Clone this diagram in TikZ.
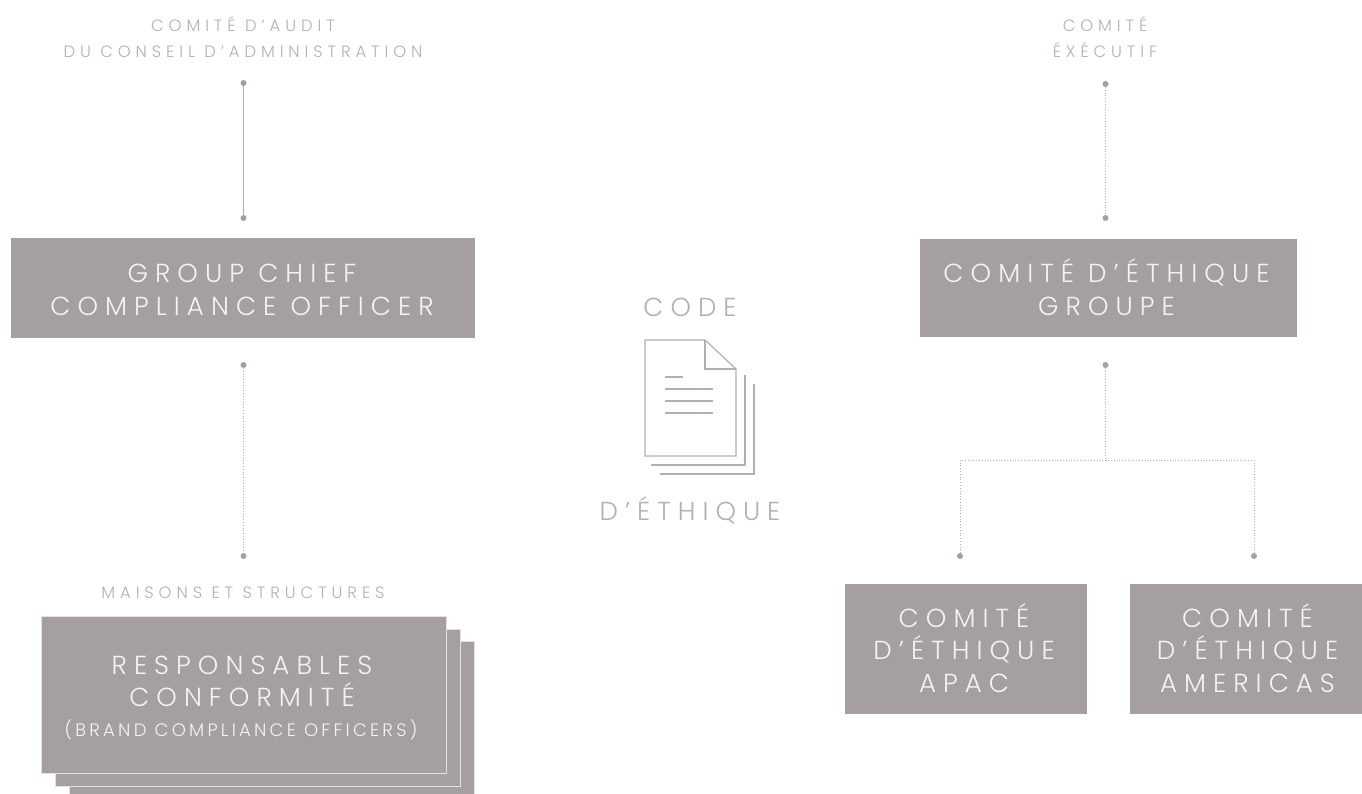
\documentclass[tikz,border=0pt]{standalone}
\usepackage{fontspec}
\setmainfont{Poppins}[UprightFont=* Light]
\newfontfamily\fsm{Poppins}[UprightFont=* Light,LetterSpace=30]
\newfontfamily\fbr{Poppins}[UprightFont=* Light,LetterSpace=18]
\newfontfamily\fbg{Poppins}[UprightFont=* Light,LetterSpace=27]
\definecolor{boxgrey}{HTML}{A69F9F}
\definecolor{labgrey}{HTML}{B4B0AF}
\definecolor{edgegrey}{HTML}{E4E2E1}
\definecolor{linegrey}{HTML}{B3AFAE}
\definecolor{boxtext}{HTML}{F4F3F2}
\tikzset{
  x=1pt,y=-1pt,
  panel/.style={fill=boxgrey,draw=none,inner sep=0pt,outer sep=0pt,minimum width=#1,anchor=north west},
  backpanel/.style={fill=boxgrey,draw=edgegrey,line width=1pt,inner sep=0pt,anchor=north west},
  boxlabel/.style={text=boxtext,align=center,inner sep=0pt,font=\fbg\fontsize{26.1}{32.5}\selectfont},
  smalllabel/.style={text=labgrey,align=center,inner sep=0pt,font=\fsm\fontsize{16.4}{26}\selectfont},
  midlabel/.style={text=labgrey,align=center,inner sep=0pt,font=\fbg\fontsize{26}{28}\selectfont},
  pin/.style={circle,fill=boxgrey,draw=none,minimum size=6pt,inner sep=0pt,outer sep=0pt},
  solidlink/.style={draw=linegrey,line width=1.4pt},
  dotlink/.style={draw=linegrey,line width=.8pt,dash pattern=on .9pt off 1.9pt},
  docline/.style={draw=linegrey,line width=1.2pt},
}
\begin{document}
\begin{tikzpicture}
\useasboundingbox (0,0) rectangle (1362,793);
% stacked panels
\node[backpanel,minimum width=405pt,minimum height=157pt] (st3) at (69,641) {};
\node[backpanel,minimum width=405pt,minimum height=157pt] (st2) at (55,629) {};
\node[backpanel,minimum width=405pt,minimum height=157pt] (st1) at (41,616) {};
% boxes
\node[panel=464pt,minimum height=100pt] (gcco) at (11,238) {};
\node[panel=377pt,minimum height=98pt] (ceg) at (920,239) {};
\node[panel=242pt,minimum height=130pt] (apac) at (845,584) {};
\node[panel=232pt,minimum height=130pt] (amer) at (1130,584) {};
\node[boxlabel] (tgcco) at (242,290) {GROUP CHIEF\\COMPLIANCE OFFICER};
\node[boxlabel] (tceg) at (1106.5,287) {COMITÉ D’ÉTHIQUE\\GROUPE};
\node[boxlabel] (tapac) at (964,648) {COMITÉ\\D’ÉTHIQUE\\APAC};
\node[boxlabel] (tamer) at (1247.5,648) {COMITÉ\\D’ÉTHIQUE\\AMERICAS};
\node[boxlabel] (tresp) at (242,681.5) {RESPONSABLES\\CONFORMITÉ};
\node[smalllabel,text=boxtext,font=\fbr\fontsize{18}{20}\selectfont] (tbrand) at (241,730) {(BRAND COMPLIANCE OFFICERS)};
% small labels
\node[smalllabel] (audit) at (243,37) {COMITÉ D’AUDIT\\DU CONSEIL D’ADMINISTRATION};
\node[smalllabel] (exec) at (1105,37) {COMITÉ\\ÉXÉCUTIF};
\node[smalllabel] (maisons) at (243,593) {MAISONS ET STRUCTURES};
\node[midlabel] (code) at (690,307) {CODE};
\node[midlabel] (ethique) at (690,510) {D’ÉTHIQUE};
% pins
\node[pin] (a1) at (243.5,83) {};
\node[pin] (a2) at (243.5,218) {};
\node[pin] (b1) at (243.5,365) {};
\node[pin] (b2) at (243.5,556) {};
\node[pin] (c1) at (1105.5,84) {};
\node[pin] (c2) at (1105.5,218) {};
\node[pin] (d1) at (1105.5,365) {};
\node[pin] (d2) at (960,556) {};
\node[pin] (d3) at (1254,556) {};
\coordinate (j) at (1105.5,460);
% connectors
\draw[solidlink] (a1) -- (a2);
\draw[dotlink] (b1) -- (b2);
\draw[dotlink] (c1) -- (c2);
\draw[dotlink] (d1) -- (j);
\draw[dotlink] (d2) |- (j);
\draw[dotlink] (d3) |- (j);
% document icon
\draw[docline] (705,340) -- (645,340) -- (645,456) -- (736,456) -- (736,369) -- cycle;
\draw[docline] (705,340) -- (705,369) -- (736,369);
\draw[docline] (665,377) -- (683,377);
\draw[docline] (665,389) -- (713,389);
\draw[docline] (665,401) -- (713,401);
\draw[docline] (665,413) -- (713,413);
\draw[docline] (745,375) -- (745,465) -- (651,465);
\draw[docline] (754,384) -- (754,474) -- (660,474);
\end{tikzpicture}
\end{document}
